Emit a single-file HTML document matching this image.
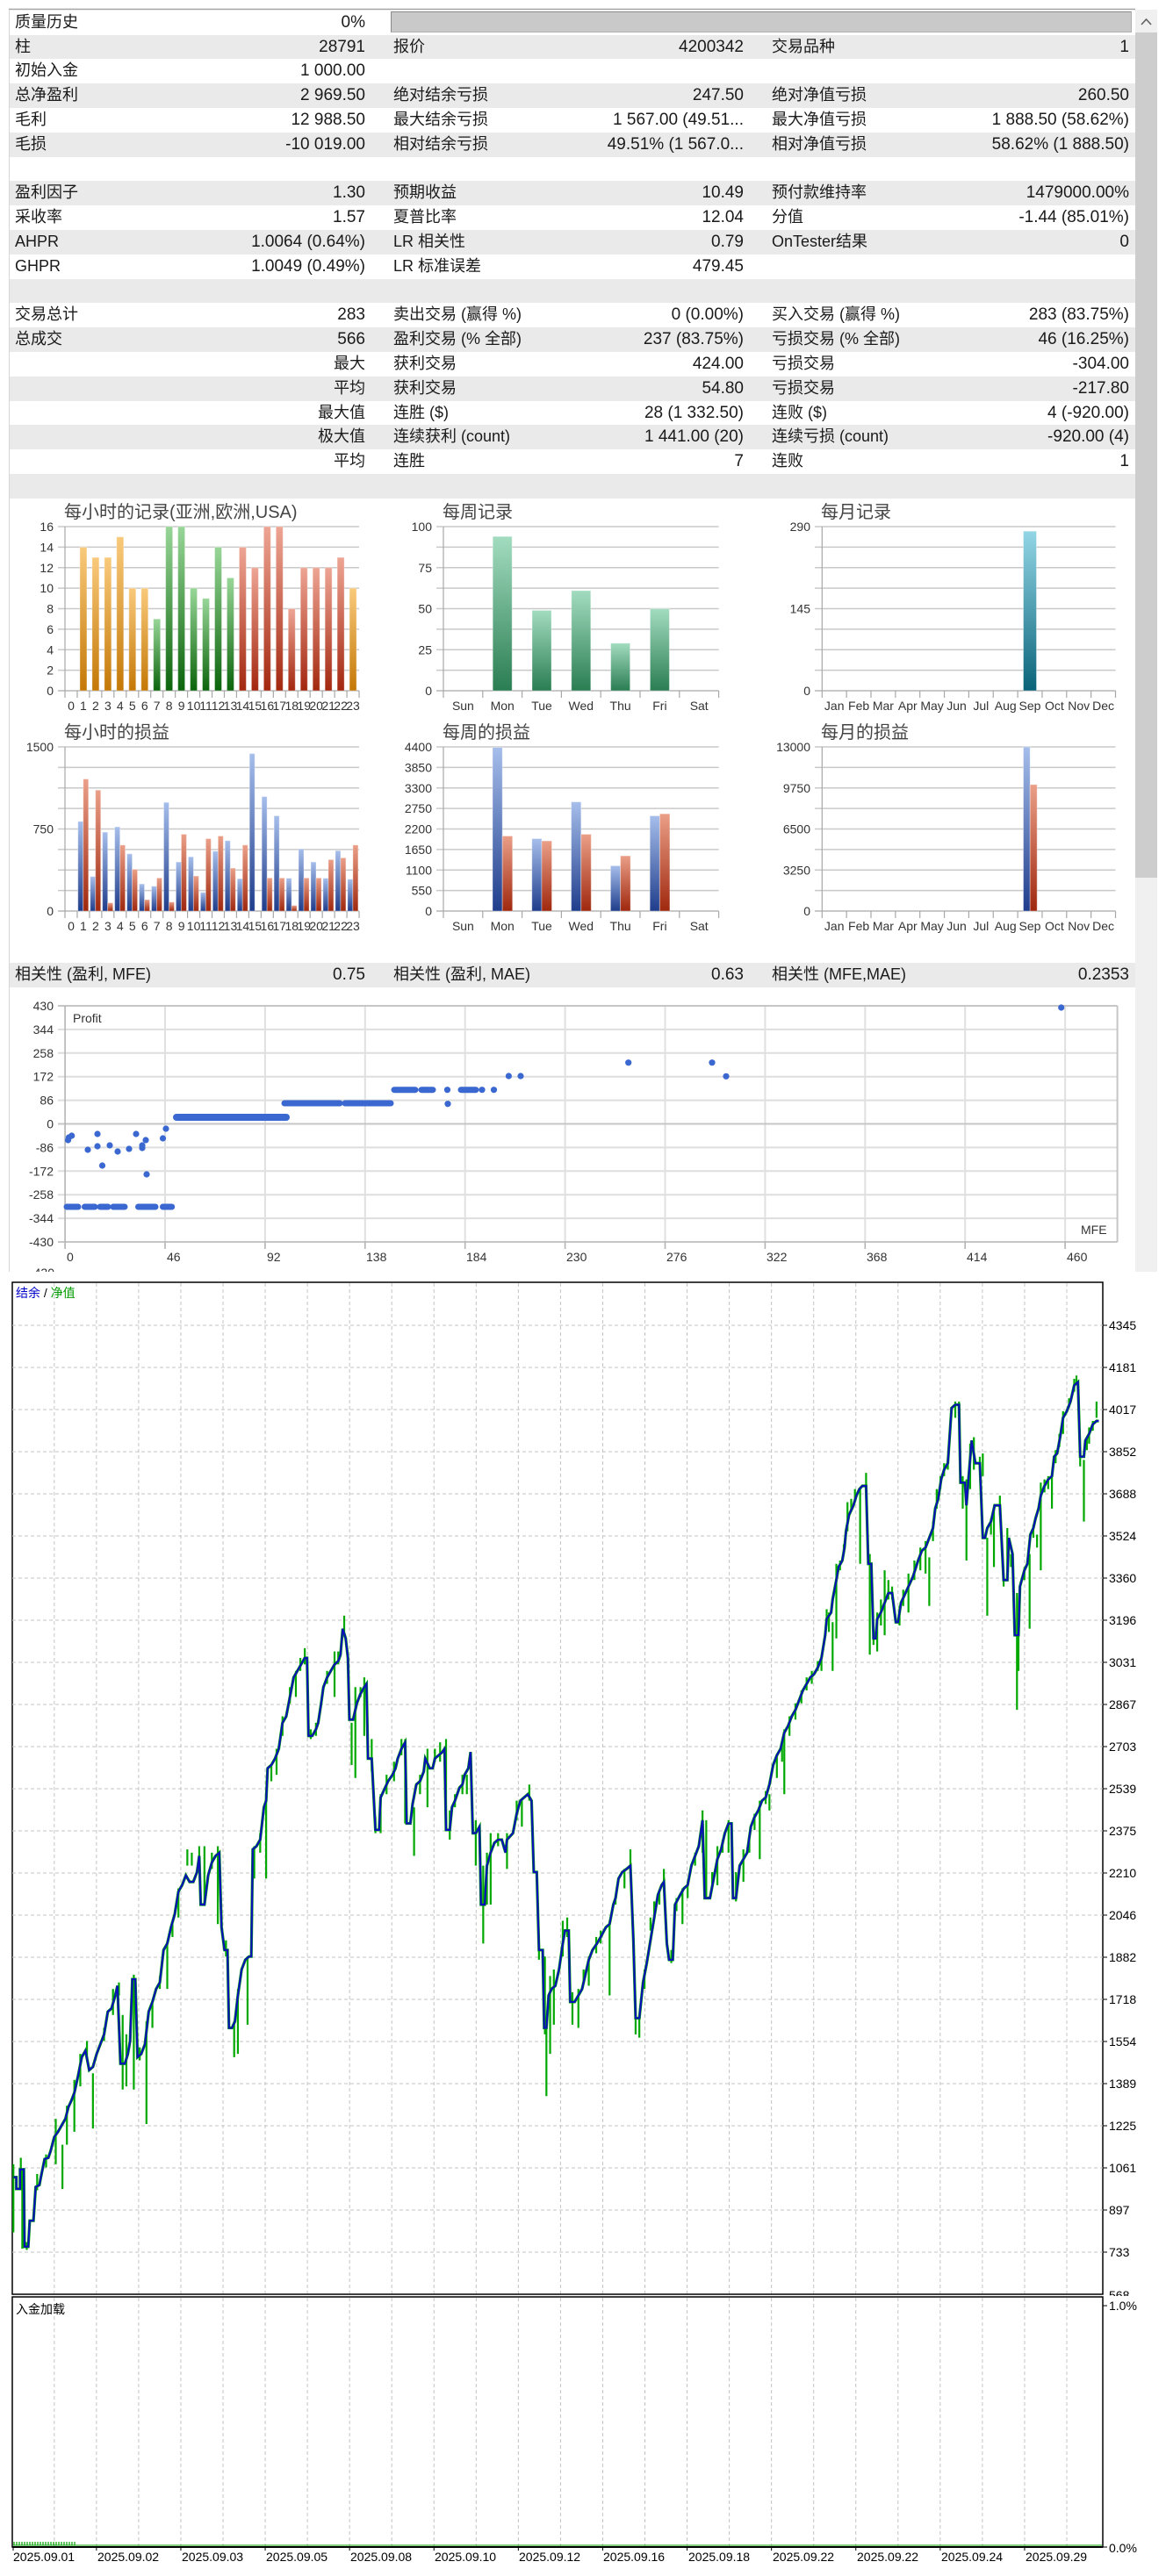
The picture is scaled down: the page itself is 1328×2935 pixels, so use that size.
<!DOCTYPE html>
<html><head><meta charset="utf-8">
<style>
html,body{margin:0;padding:0;background:#fff;}
#pg{position:relative;width:1328px;height:2935px;overflow:hidden;background:#fff;font-family:"Liberation Sans","Noto Sans CJK SC",sans-serif;color:#1a1a1a;}
.r{position:absolute;left:10px;width:1283px;height:27.8px;line-height:27.8px;font-size:18px;white-space:nowrap;}
.g{background:#eaeaea;}
.r span{position:absolute;top:0;}
.l1{left:7px}.l2{left:438px}.l3{left:869px}
.v1{right:877px;font-size:19px}.v2{right:446px;font-size:19px}.v3{right:7px;font-size:19px}
.v1c{right:877px}
svg{position:absolute;left:0;top:0;}
</style></head><body><div id="pg">

<div class="r" style="top:11.8px"><span class="l1">质量历史</span><span class="v1">0%</span></div>
<div style="position:absolute;left:445px;top:13px;width:842px;height:22px;background:#c9c9c9;border:1px solid #8a8a8a;border-right-color:#b0b0b0;border-bottom-color:#b0b0b0"></div>
<div class="r g" style="top:39.6px"><span class="l1">柱</span><span class="v1">28791</span><span class="l2">报价</span><span class="v2">4200342</span><span class="l3">交易品种</span><span class="v3">1</span></div>
<div class="r" style="top:67.4px"><span class="l1">初始入金</span><span class="v1">1 000.00</span></div>
<div class="r g" style="top:95.2px"><span class="l1">总净盈利</span><span class="v1">2 969.50</span><span class="l2">绝对结余亏损</span><span class="v2">247.50</span><span class="l3">绝对净值亏损</span><span class="v3">260.50</span></div>
<div class="r" style="top:123px"><span class="l1">毛利</span><span class="v1">12 988.50</span><span class="l2">最大结余亏损</span><span class="v2">1 567.00 (49.51...</span><span class="l3">最大净值亏损</span><span class="v3">1 888.50 (58.62%)</span></div>
<div class="r g" style="top:150.8px"><span class="l1">毛损</span><span class="v1">-10 019.00</span><span class="l2">相对结余亏损</span><span class="v2">49.51% (1 567.0...</span><span class="l3">相对净值亏损</span><span class="v3">58.62% (1 888.50)</span></div>
<div class="r" style="top:178.6px"></div>
<div class="r g" style="top:206.4px"><span class="l1">盈利因子</span><span class="v1">1.30</span><span class="l2">预期收益</span><span class="v2">10.49</span><span class="l3">预付款维持率</span><span class="v3">1479000.00%</span></div>
<div class="r" style="top:234.2px"><span class="l1">采收率</span><span class="v1">1.57</span><span class="l2">夏普比率</span><span class="v2">12.04</span><span class="l3">分值</span><span class="v3">-1.44 (85.01%)</span></div>
<div class="r g" style="top:262px"><span class="l1">AHPR</span><span class="v1">1.0064 (0.64%)</span><span class="l2">LR 相关性</span><span class="v2">0.79</span><span class="l3">OnTester结果</span><span class="v3">0</span></div>
<div class="r" style="top:289.8px"><span class="l1">GHPR</span><span class="v1">1.0049 (0.49%)</span><span class="l2">LR 标准误差</span><span class="v2">479.45</span></div>
<div class="r g" style="top:317.6px"></div>
<div class="r" style="top:345.4px"><span class="l1">交易总计</span><span class="v1">283</span><span class="l2">卖出交易 (赢得 %)</span><span class="v2">0 (0.00%)</span><span class="l3">买入交易 (赢得 %)</span><span class="v3">283 (83.75%)</span></div>
<div class="r g" style="top:373.2px"><span class="l1">总成交</span><span class="v1">566</span><span class="l2">盈利交易 (% 全部)</span><span class="v2">237 (83.75%)</span><span class="l3">亏损交易 (% 全部)</span><span class="v3">46 (16.25%)</span></div>
<div class="r" style="top:401px"><span class="v1c">最大</span><span class="l2">获利交易</span><span class="v2">424.00</span><span class="l3">亏损交易</span><span class="v3">-304.00</span></div>
<div class="r g" style="top:428.8px"><span class="v1c">平均</span><span class="l2">获利交易</span><span class="v2">54.80</span><span class="l3">亏损交易</span><span class="v3">-217.80</span></div>
<div class="r" style="top:456.6px"><span class="v1c">最大值</span><span class="l2">连胜 ($)</span><span class="v2">28 (1 332.50)</span><span class="l3">连败 ($)</span><span class="v3">4 (-920.00)</span></div>
<div class="r g" style="top:484.4px"><span class="v1c">极大值</span><span class="l2">连续获利 (count)</span><span class="v2">1 441.00 (20)</span><span class="l3">连续亏损 (count)</span><span class="v3">-920.00 (4)</span></div>
<div class="r" style="top:512.2px"><span class="v1c">平均</span><span class="l2">连胜</span><span class="v2">7</span><span class="l3">连败</span><span class="v3">1</span></div>
<div class="r g" style="top:540px"></div>
<div class="r g" style="top:1097.4px"><span class="l1">相关性 (盈利, MFE)</span><span class="v1">0.75</span><span class="l2">相关性 (盈利, MAE)</span><span class="v2">0.63</span><span class="l3">相关性 (MFE,MAE)</span><span class="v3">0.2353</span></div>

<svg width="1328" height="2935" viewBox="0 0 1328 2935" xmlns="http://www.w3.org/2000/svg" font-family="Liberation Sans, Noto Sans CJK SC, sans-serif">
<defs>
<linearGradient id="gO" x1="0" y1="0" x2="0" y2="1"><stop offset="0" stop-color="#f9ca7c"/><stop offset="1" stop-color="#c47806"/></linearGradient>
<linearGradient id="gG" x1="0" y1="0" x2="0" y2="1"><stop offset="0" stop-color="#98d698"/><stop offset="1" stop-color="#0b640b"/></linearGradient>
<linearGradient id="gR" x1="0" y1="0" x2="0" y2="1"><stop offset="0" stop-color="#eea594"/><stop offset="1" stop-color="#a3270f"/></linearGradient>
<linearGradient id="gW" x1="0" y1="0" x2="0" y2="1"><stop offset="0" stop-color="#a3dcc0"/><stop offset="1" stop-color="#2a7d52"/></linearGradient>
<linearGradient id="gB" x1="0" y1="0" x2="0" y2="1"><stop offset="0" stop-color="#a6beeb"/><stop offset="1" stop-color="#1f3d8c"/></linearGradient>
<linearGradient id="gR2" x1="0" y1="0" x2="0" y2="1"><stop offset="0" stop-color="#eb9f88"/><stop offset="1" stop-color="#9f280e"/></linearGradient>
<linearGradient id="gT" x1="0" y1="0" x2="0" y2="1"><stop offset="0" stop-color="#93d6e6"/><stop offset="1" stop-color="#0a6379"/></linearGradient>
</defs>

<!-- panel frame -->
<line x1="10" y1="10.5" x2="1293" y2="10.5" stroke="#a4a4a4" stroke-width="1.5"/>
<line x1="10.5" y1="11" x2="10.5" y2="1449" stroke="#d6d6d6" stroke-width="1"/>
<!-- scrollbar -->
<rect x="1293" y="11" width="25" height="1438" fill="#f0f0f0"/>
<rect x="1293" y="37" width="25" height="963" fill="#cdcdcd"/>
<polyline points="1300,28 1305.5,22 1311,28" fill="none" stroke="#606060" stroke-width="1.6"/>

<!-- ============ bar charts grids ============ -->
<g stroke="#c9c9c9" stroke-width="1.5" fill="none">
<path d="M66 600H409M66 623.4H409M66 646.75H409M66 670.1H409M66 693.5H409M66 716.9H409M66 740.25H409M66 763.6H409"/>
<path d="M66 851H409M66 874.4H409M66 897.75H409M66 921.1H409M66 944.5H409M66 967.9H409M66 991.25H409M66 1014.6H409"/>
<path d="M497 600H818.6M497 623.4H818.6M497 646.75H818.6M497 670.1H818.6M497 693.5H818.6M497 716.9H818.6M497 740.25H818.6M497 763.6H818.6"/>
<path d="M497 851H818.6M497 874.4H818.6M497 897.75H818.6M497 921.1H818.6M497 944.5H818.6M497 967.9H818.6M497 991.25H818.6M497 1014.6H818.6"/>
<path d="M928 600H1270.5M928 623.4H1270.5M928 646.75H1270.5M928 670.1H1270.5M928 693.5H1270.5M928 716.9H1270.5M928 740.25H1270.5M928 763.6H1270.5"/>
<path d="M928 851H1270.5M928 874.4H1270.5M928 897.75H1270.5M928 921.1H1270.5M928 944.5H1270.5M928 967.9H1270.5M928 991.25H1270.5M928 1014.6H1270.5"/>
</g>
<g stroke="#a8a8a8" stroke-width="1.2" fill="none">
<path d="M66 787H409M74 600V795M66 1038H409M74 851V1046"/>
<path d="M497 787H818.6M505 600V795M497 1038H818.6M505 851V1046"/>
<path d="M928 787H1270.5M936.3 600V795M928 1038H1270.5M936.3 851V1046"/>
<path d="M87.96 787v8M101.92 787v8M115.88 787v8M129.84 787v8M143.8 787v8M157.76 787v8M171.72 787v8M185.68 787v8M199.64 787v8M213.6 787v8M227.56 787v8M241.52 787v8M255.48 787v8M269.44 787v8M283.4 787v8M297.36 787v8M311.32 787v8M325.28 787v8M339.24 787v8M353.2 787v8M367.16 787v8M381.12 787v8M395.08 787v8M409.04 787v8"/>
<path d="M87.96 1038v8M101.92 1038v8M115.88 1038v8M129.84 1038v8M143.8 1038v8M157.76 1038v8M171.72 1038v8M185.68 1038v8M199.64 1038v8M213.6 1038v8M227.56 1038v8M241.52 1038v8M255.48 1038v8M269.44 1038v8M283.4 1038v8M297.36 1038v8M311.32 1038v8M325.28 1038v8M339.24 1038v8M353.2 1038v8M367.16 1038v8M381.12 1038v8M395.08 1038v8M409.04 1038v8"/>
<path d="M549.8 787v8M594.6 787v8M639.4 787v8M684.2 787v8M729 787v8M773.8 787v8M818.6 787v8M549.8 1038v8M594.6 1038v8M639.4 1038v8M684.2 1038v8M729 1038v8M773.8 1038v8M818.6 1038v8"/>
<path d="M964.15 787v8M992 787v8M1019.85 787v8M1047.7 787v8M1075.55 787v8M1103.4 787v8M1131.25 787v8M1159.1 787v8M1186.95 787v8M1214.8 787v8M1242.65 787v8M1270.5 787v8"/>
<path d="M964.15 1038v8M992 1038v8M1019.85 1038v8M1047.7 1038v8M1075.55 1038v8M1103.4 1038v8M1131.25 1038v8M1159.1 1038v8M1186.95 1038v8M1214.8 1038v8M1242.65 1038v8M1270.5 1038v8"/>
</g>

<!-- titles -->
<g font-size="20" fill="#444">
<text x="73" y="590">每小时的记录(亚洲,欧洲,USA)</text>
<text x="504" y="590">每周记录</text>
<text x="935" y="590">每月记录</text>
<text x="73" y="841">每小时的损益</text>
<text x="504" y="841">每周的损益</text>
<text x="935" y="841">每月的损益</text>
</g>

<!-- y labels -->
<g font-size="14" fill="#333" text-anchor="end">
<text x="61" y="605">16</text><text x="61" y="628.4">14</text><text x="61" y="651.75">12</text><text x="61" y="675.1">10</text><text x="61" y="698.5">8</text><text x="61" y="721.9">6</text><text x="61" y="745.25">4</text><text x="61" y="768.6">2</text><text x="61" y="792">0</text>
<text x="61" y="856">1500</text><text x="61" y="949.5">750</text><text x="61" y="1043">0</text>
<text x="492" y="605">100</text><text x="492" y="651.75">75</text><text x="492" y="698.5">50</text><text x="492" y="745.25">25</text><text x="492" y="792">0</text>
<text x="492" y="856">4400</text><text x="492" y="879.4">3850</text><text x="492" y="902.75">3300</text><text x="492" y="926.1">2750</text><text x="492" y="949.5">2200</text><text x="492" y="972.9">1650</text><text x="492" y="996.25">1100</text><text x="492" y="1019.6">550</text><text x="492" y="1043">0</text>
<text x="923" y="605">290</text><text x="923" y="698.5">145</text><text x="923" y="792">0</text>
<text x="923" y="856">13000</text><text x="923" y="902.75">9750</text><text x="923" y="949.5">6500</text><text x="923" y="996.25">3250</text><text x="923" y="1043">0</text>
</g>

<!-- x labels -->
<g font-size="14" fill="#333" text-anchor="middle">
<text x="80.98" y="809">0</text><text x="94.94" y="809">1</text><text x="108.9" y="809">2</text><text x="122.86" y="809">3</text><text x="136.82" y="809">4</text><text x="150.78" y="809">5</text><text x="164.74" y="809">6</text><text x="178.7" y="809">7</text><text x="192.66" y="809">8</text><text x="206.62" y="809">9</text><text x="220.58" y="809">10</text><text x="234.54" y="809">11</text><text x="248.5" y="809">12</text><text x="262.46" y="809">13</text><text x="276.42" y="809">14</text><text x="290.38" y="809">15</text><text x="304.34" y="809">16</text><text x="318.3" y="809">17</text><text x="332.26" y="809">18</text><text x="346.22" y="809">19</text><text x="360.18" y="809">20</text><text x="374.14" y="809">21</text><text x="388.1" y="809">22</text><text x="402.06" y="809">23</text>
<text x="80.98" y="1060">0</text><text x="94.94" y="1060">1</text><text x="108.9" y="1060">2</text><text x="122.86" y="1060">3</text><text x="136.82" y="1060">4</text><text x="150.78" y="1060">5</text><text x="164.74" y="1060">6</text><text x="178.7" y="1060">7</text><text x="192.66" y="1060">8</text><text x="206.62" y="1060">9</text><text x="220.58" y="1060">10</text><text x="234.54" y="1060">11</text><text x="248.5" y="1060">12</text><text x="262.46" y="1060">13</text><text x="276.42" y="1060">14</text><text x="290.38" y="1060">15</text><text x="304.34" y="1060">16</text><text x="318.3" y="1060">17</text><text x="332.26" y="1060">18</text><text x="346.22" y="1060">19</text><text x="360.18" y="1060">20</text><text x="374.14" y="1060">21</text><text x="388.1" y="1060">22</text><text x="402.06" y="1060">23</text>
<text x="527.4" y="809">Sun</text><text x="572.2" y="809">Mon</text><text x="617" y="809">Tue</text><text x="661.8" y="809">Wed</text><text x="706.6" y="809">Thu</text><text x="751.4" y="809">Fri</text><text x="796.2" y="809">Sat</text>
<text x="527.4" y="1060">Sun</text><text x="572.2" y="1060">Mon</text><text x="617" y="1060">Tue</text><text x="661.8" y="1060">Wed</text><text x="706.6" y="1060">Thu</text><text x="751.4" y="1060">Fri</text><text x="796.2" y="1060">Sat</text>
<text x="950.2" y="809">Jan</text><text x="978.1" y="809">Feb</text><text x="1005.9" y="809">Mar</text><text x="1033.8" y="809">Apr</text><text x="1061.6" y="809">May</text><text x="1089.5" y="809">Jun</text><text x="1117.3" y="809">Jul</text><text x="1145.2" y="809">Aug</text><text x="1173" y="809">Sep</text><text x="1200.9" y="809">Oct</text><text x="1228.7" y="809">Nov</text><text x="1256.6" y="809">Dec</text>
<text x="950.2" y="1060">Jan</text><text x="978.1" y="1060">Feb</text><text x="1005.9" y="1060">Mar</text><text x="1033.8" y="1060">Apr</text><text x="1061.6" y="1060">May</text><text x="1089.5" y="1060">Jun</text><text x="1117.3" y="1060">Jul</text><text x="1145.2" y="1060">Aug</text><text x="1173" y="1060">Sep</text><text x="1200.9" y="1060">Oct</text><text x="1228.7" y="1060">Nov</text><text x="1256.6" y="1060">Dec</text>
</g>

<!-- hourly records bars -->
<g stroke="rgba(255,255,255,0.35)" stroke-width="1">
<rect x="90.94" y="623.4" width="8" height="163.6" fill="url(#gO)"/>
<rect x="104.9" y="635.1" width="8" height="151.9" fill="url(#gO)"/>
<rect x="118.86" y="635.1" width="8" height="151.9" fill="url(#gO)"/>
<rect x="132.82" y="611.7" width="8" height="175.3" fill="url(#gO)"/>
<rect x="146.78" y="670.1" width="8" height="116.9" fill="url(#gO)"/>
<rect x="160.74" y="670.1" width="8" height="116.9" fill="url(#gO)"/>
<rect x="174.7" y="705.2" width="8" height="81.8" fill="url(#gG)"/>
<rect x="188.66" y="600" width="8" height="187" fill="url(#gG)"/>
<rect x="202.62" y="600" width="8" height="187" fill="url(#gG)"/>
<rect x="216.58" y="670.1" width="8" height="116.9" fill="url(#gG)"/>
<rect x="230.54" y="681.8" width="8" height="105.2" fill="url(#gG)"/>
<rect x="244.5" y="623.4" width="8" height="163.6" fill="url(#gG)"/>
<rect x="258.46" y="658.4" width="8" height="128.6" fill="url(#gG)"/>
<rect x="272.42" y="623.4" width="8" height="163.6" fill="url(#gR)"/>
<rect x="286.38" y="646.75" width="8" height="140.25" fill="url(#gR)"/>
<rect x="300.34" y="600" width="8" height="187" fill="url(#gR)"/>
<rect x="314.3" y="600" width="8" height="187" fill="url(#gR)"/>
<rect x="328.26" y="693.5" width="8" height="93.5" fill="url(#gR)"/>
<rect x="342.22" y="646.75" width="8" height="140.25" fill="url(#gR)"/>
<rect x="356.18" y="646.75" width="8" height="140.25" fill="url(#gR)"/>
<rect x="370.14" y="646.75" width="8" height="140.25" fill="url(#gR)"/>
<rect x="384.1" y="635.1" width="8" height="151.9" fill="url(#gR)"/>
<rect x="398.06" y="670.1" width="8" height="116.9" fill="url(#gO)"/>

<!-- hourly P/L -->
<rect x="88.76" y="935.9" width="6" height="102.1" fill="url(#gB)"/><rect x="94.76" y="887.6" width="6" height="150.4" fill="url(#gR2)"/>
<rect x="102.72" y="998.7" width="6" height="39.3" fill="url(#gB)"/><rect x="108.72" y="900.2" width="6" height="137.8" fill="url(#gR2)"/>
<rect x="116.68" y="948.1" width="6" height="89.9" fill="url(#gB)"/><rect x="122.68" y="1028.6" width="6" height="9.4" fill="url(#gR2)"/>
<rect x="130.64" y="942.1" width="6" height="95.9" fill="url(#gB)"/><rect x="136.64" y="962.8" width="6" height="75.2" fill="url(#gR2)"/>
<rect x="144.6" y="972.8" width="6" height="65.2" fill="url(#gB)"/><rect x="150.6" y="990.4" width="6" height="47.6" fill="url(#gR2)"/>
<rect x="158.56" y="1007.1" width="6" height="30.9" fill="url(#gB)"/><rect x="164.56" y="1025" width="6" height="13" fill="url(#gR2)"/>
<rect x="172.52" y="1009.7" width="6" height="28.3" fill="url(#gB)"/><rect x="178.52" y="1000.3" width="6" height="37.7" fill="url(#gR2)"/>
<rect x="186.48" y="914.2" width="6" height="123.8" fill="url(#gB)"/><rect x="192.48" y="1027.7" width="6" height="10.3" fill="url(#gR2)"/>
<rect x="200.44" y="982.1" width="6" height="55.9" fill="url(#gB)"/><rect x="206.44" y="950.5" width="6" height="87.5" fill="url(#gR2)"/>
<rect x="214.4" y="976.2" width="6" height="61.8" fill="url(#gB)"/><rect x="220.4" y="998.1" width="6" height="39.9" fill="url(#gR2)"/>
<rect x="228.36" y="1016.7" width="6" height="21.3" fill="url(#gB)"/><rect x="234.36" y="955.5" width="6" height="82.5" fill="url(#gR2)"/>
<rect x="242.32" y="969.8" width="6" height="68.2" fill="url(#gB)"/><rect x="248.32" y="952.5" width="6" height="85.5" fill="url(#gR2)"/>
<rect x="256.28" y="957.8" width="6" height="80.2" fill="url(#gB)"/><rect x="262.28" y="989.1" width="6" height="48.9" fill="url(#gR2)"/>
<rect x="270.24" y="1001.1" width="6" height="36.9" fill="url(#gB)"/><rect x="276.24" y="962.8" width="6" height="75.2" fill="url(#gR2)"/>
<rect x="284.2" y="858.6" width="6" height="179.4" fill="url(#gB)"/>
<rect x="298.16" y="907.6" width="6" height="130.4" fill="url(#gB)"/><rect x="304.16" y="1000.3" width="6" height="37.7" fill="url(#gR2)"/>
<rect x="312.12" y="929.5" width="6" height="108.5" fill="url(#gB)"/><rect x="318.12" y="1000.3" width="6" height="37.7" fill="url(#gR2)"/>
<rect x="326.08" y="1000.6" width="6" height="37.4" fill="url(#gB)"/><rect x="332.08" y="1031.6" width="6" height="6.4" fill="url(#gR2)"/>
<rect x="340.04" y="967.2" width="6" height="70.8" fill="url(#gB)"/><rect x="346.04" y="1000.3" width="6" height="37.7" fill="url(#gR2)"/>
<rect x="354" y="982.1" width="6" height="55.9" fill="url(#gB)"/><rect x="360" y="1000.3" width="6" height="37.7" fill="url(#gR2)"/>
<rect x="367.96" y="1000.6" width="6" height="37.4" fill="url(#gB)"/><rect x="373.96" y="979.4" width="6" height="58.6" fill="url(#gR2)"/>
<rect x="381.92" y="969.2" width="6" height="68.8" fill="url(#gB)"/><rect x="387.92" y="977.4" width="6" height="60.6" fill="url(#gR2)"/>
<rect x="395.88" y="1001.7" width="6" height="36.3" fill="url(#gB)"/><rect x="401.88" y="962.8" width="6" height="75.2" fill="url(#gR2)"/>

<!-- weekly -->
<rect x="561.2" y="611.2" width="22" height="175.8" fill="url(#gW)"/>
<rect x="606" y="695.4" width="22" height="91.6" fill="url(#gW)"/>
<rect x="650.8" y="672.9" width="22" height="114.1" fill="url(#gW)"/>
<rect x="695.6" y="732.8" width="22" height="54.2" fill="url(#gW)"/>
<rect x="740.4" y="693.5" width="22" height="93.5" fill="url(#gW)"/>
<rect x="561" y="851.6" width="11.2" height="186.4" fill="url(#gB)"/><rect x="572.2" y="952.5" width="11.5" height="85.5" fill="url(#gR2)"/>
<rect x="605.8" y="955.5" width="11.2" height="82.5" fill="url(#gB)"/><rect x="617" y="958.1" width="11.5" height="79.9" fill="url(#gR2)"/>
<rect x="650.6" y="913.6" width="11.2" height="124.4" fill="url(#gB)"/><rect x="661.8" y="950.5" width="11.5" height="87.5" fill="url(#gR2)"/>
<rect x="695.4" y="986.4" width="11.2" height="51.6" fill="url(#gB)"/><rect x="706.6" y="975.1" width="11.5" height="62.9" fill="url(#gR2)"/>
<rect x="740.2" y="929.5" width="11.2" height="108.5" fill="url(#gB)"/><rect x="751.4" y="927.2" width="11.5" height="110.8" fill="url(#gR2)"/>

<!-- monthly -->
<rect x="1165.5" y="605.2" width="15" height="181.8" fill="url(#gT)"/>
<rect x="1165.5" y="851" width="7.7" height="187" fill="url(#gB)"/>
<rect x="1173.2" y="893.9" width="8" height="144.1" fill="url(#gR2)"/>
</g>

<!-- ============ scatter ============ -->
<g fill="none">
<path stroke="#dedede" stroke-width="2" d="M66 1172.9H1272.6M66 1199.8H1272.6M66 1226.7H1272.6M66 1253.6H1272.6M66 1307.4H1272.6M66 1334.3H1272.6M66 1361.2H1272.6M66 1388.1H1272.6"/>
<path stroke="#e0e0e0" stroke-width="2" d="M188 1146V1415M301.9 1146V1415M415.8 1146V1415M529.7 1146V1415M643.6 1146V1415M757.5 1146V1415M871.4 1146V1415M985.3 1146V1415M1099.2 1146V1415M1213.1 1146V1415"/>
<path stroke="#c6c6c6" stroke-width="2" d="M66 1146H1272.6M66 1280.5H1272.6M1272.6 1146V1415"/>
<path stroke="#b4b4b4" stroke-width="1.6" d="M66 1415H1272.6M74.1 1146V1423M188 1415v8M301.9 1415v8M415.8 1415v8M529.7 1415v8M643.6 1415v8M757.5 1415v8M871.4 1415v8M985.3 1415v8M1099.2 1415v8M1213.1 1415v8"/>
</g>
<g font-size="14" fill="#333" text-anchor="end">
<text x="61" y="1151">430</text><text x="61" y="1177.9">344</text><text x="61" y="1204.8">258</text><text x="61" y="1231.7">172</text><text x="61" y="1258.6">86</text><text x="61" y="1285.5">0</text><text x="61" y="1312.4">-86</text><text x="61" y="1339.3">-172</text><text x="61" y="1366.2">-258</text><text x="61" y="1393.1">-344</text><text x="61" y="1420">-430</text>
<text x="62" y="1455">-430</text>
</g>
<g font-size="14" fill="#333">
<text x="76" y="1437">0</text><text x="190" y="1437">46</text><text x="304" y="1437">92</text><text x="417" y="1437">138</text><text x="531" y="1437">184</text><text x="645" y="1437">230</text><text x="759" y="1437">276</text><text x="873" y="1437">322</text><text x="987" y="1437">368</text><text x="1101" y="1437">414</text><text x="1215" y="1437">460</text>
<text x="83" y="1165">Profit</text><text x="1231" y="1406">MFE</text>
</g>
<g stroke="#3a68d0" stroke-width="7" stroke-linecap="round">
<path d="M76 1375H89M96.5 1375H108M114 1375H123M129 1375H142M157.5 1375H177M185.5 1375H195.7"/>
<path d="M201 1273H326" stroke-width="8"/>
<path d="M324 1257H387M393 1257H445"/>
<path d="M449 1241.7H473M480 1241.7H493M525 1241.7H542"/>
</g>
<g fill="#3a68d0">
<circle cx="77.5" cy="1299" r="3.6"/><circle cx="78.4" cy="1296" r="3.6"/><circle cx="81.7" cy="1294" r="3.6"/>
<circle cx="100" cy="1310" r="3.6"/><circle cx="111" cy="1292" r="3.6"/><circle cx="111" cy="1306" r="3.6"/><circle cx="116.5" cy="1328" r="3.6"/>
<circle cx="125" cy="1305" r="3.6"/><circle cx="134" cy="1312" r="3.6"/><circle cx="147" cy="1309" r="3.6"/><circle cx="155" cy="1292" r="3.6"/>
<circle cx="162" cy="1305" r="3.6"/><circle cx="162" cy="1308" r="3.6"/><circle cx="166" cy="1299" r="3.6"/><circle cx="167" cy="1338" r="3.6"/>
<circle cx="185.5" cy="1297" r="3.6"/><circle cx="189" cy="1286" r="3.6"/>
<circle cx="509.5" cy="1241.7" r="3.6"/><circle cx="549" cy="1241.7" r="3.6"/><circle cx="562.5" cy="1241.7" r="3.6"/><circle cx="510" cy="1257.7" r="3.6"/>
<circle cx="579.4" cy="1226" r="3.6"/><circle cx="593" cy="1226" r="3.6"/>
<circle cx="715.7" cy="1210.7" r="3.6"/><circle cx="811" cy="1210.7" r="3.6"/><circle cx="827" cy="1226.3" r="3.6"/><circle cx="1208.7" cy="1148" r="3.6"/>
</g>
<rect x="0" y="1449" width="1328" height="12" fill="#fff"/>

<!-- ============ main chart ============ -->
<rect x="14" y="1461" width="1242" height="1153" fill="#fff" stroke="#000" stroke-width="1.5"/>
<g stroke="#c4c4c4" stroke-width="1" stroke-dasharray="4 3" fill="none">
<path d="M14 1510H1256M14 1558H1256M14 1606H1256M14 1654H1256M14 1702H1256M14 1750H1256M14 1798H1256M14 1846H1256M14 1894H1256M14 1942H1256M14 1990H1256M14 2038H1256M14 2086H1256M14 2134H1256M14 2182H1256M14 2230H1256M14 2278H1256M14 2326H1256M14 2374H1256M14 2422H1256M14 2470H1256M14 2518H1256M14 2566H1256"/>
<path d="M61.8 1462V2613M109.85 1462V2613M157.9 1462V2613M205.95 1462V2613M254 1462V2613M302.05 1462V2613M350.1 1462V2613M398.15 1462V2613M446.2 1462V2613M494.25 1462V2613M542.3 1462V2613M590.35 1462V2613M638.4 1462V2613M686.45 1462V2613M734.5 1462V2613M782.55 1462V2613M830.6 1462V2613M878.65 1462V2613M926.7 1462V2613M974.75 1462V2613M1022.8 1462V2613M1070.85 1462V2613M1118.9 1462V2613M1166.95 1462V2613M1215 1462V2613"/>
</g>
<g stroke="#000" stroke-width="1">
<path d="M1256 1510h5M1256 1558h5M1256 1606h5M1256 1654h5M1256 1702h5M1256 1750h5M1256 1798h5M1256 1846h5M1256 1894h5M1256 1942h5M1256 1990h5M1256 2038h5M1256 2086h5M1256 2134h5M1256 2182h5M1256 2230h5M1256 2278h5M1256 2326h5M1256 2374h5M1256 2422h5M1256 2470h5M1256 2518h5M1256 2566h5"/>
</g>
<g font-size="14" fill="#000">
<text x="1263" y="1515">4345</text><text x="1263" y="1563">4181</text><text x="1263" y="1611">4017</text><text x="1263" y="1659">3852</text><text x="1263" y="1707">3688</text><text x="1263" y="1755">3524</text><text x="1263" y="1803">3360</text><text x="1263" y="1851">3196</text><text x="1263" y="1899">3031</text><text x="1263" y="1947">2867</text><text x="1263" y="1995">2703</text><text x="1263" y="2043">2539</text><text x="1263" y="2091">2375</text><text x="1263" y="2139">2210</text><text x="1263" y="2187">2046</text><text x="1263" y="2235">1882</text><text x="1263" y="2283">1718</text><text x="1263" y="2331">1554</text><text x="1263" y="2379">1389</text><text x="1263" y="2427">1225</text><text x="1263" y="2475">1061</text><text x="1263" y="2523">897</text><text x="1263" y="2571">733</text><text x="1263" y="2620">568</text>
</g>
<text x="18" y="1478" font-size="14"><tspan fill="#0000c8">结余</tspan><tspan fill="#000"> / </tspan><tspan fill="#009a00">净值</tspan></text>

<g transform="translate(0 1460) scale(0.8467 0.7396)" fill="none" stroke-linejoin="miter">
<path vector-effect="non-scaling-stroke" stroke="#00a800" stroke-width="2.2" d="M18 1360V1465M28 1350V1400M30 1370V1490M36 1480V1492M50 1375V1400M62 1345V1365M75 1290V1360M84 1330V1398M90 1270V1330M100 1230V1310M108 1190V1240M117 1170V1200M125 1220V1305M140 1150V1170M152 1090V1130M160 1080V1100M165 1130V1245M170 1160V1240M180 1068V1245M188 1180V1200M197 1140V1298M205 1110V1150M215 1070V1090M225 1020V1090M232 990V1010M240 935V980M252 875V900M258 880V900M268 870V900M275 870V960M285 880V905M293 870V990M304 1015V1040M315 1140V1195M320 1090V1190M333 1040V1145M342 870V920M350 850V880M358 800V920M365 745V770M372 720V760M380 670V700M390 625V650M398 600V640M404 580V600M410 565V590M418 690V705M425 680V700M440 600V620M450 570V640M455 570V590M463 515V540M473 680V745M478 625V765M485 625V640M490 610V700M500 705V755M505 825V850M512 790V850M520 760V790M530 740V770M540 705V730M545 705V835M557 810V885M565 760V790M575 720V810M585 720V740M592 710V740M600 705V845M605 815V860M612 790V810M622 760V790M628 760V790M640 830V900M650 900V1020M655 880V960M660 850V960M670 850V870M682 850V905M695 800V830M702 800V840M712 775V800M725 1025V1045M733 1040V1160M735 1150V1255M740 1070V1190M745 1060V1145M757 985V1040M763 980V1010M770 1095V1145M778 1090V1150M785 1060V1080M792 1040V1085M802 1010V1035M808 1000V1020M820 985V1100M828 945V960M840 905V935M848 875V900M855 1130V1160M860 1135V1165M867 1060V1090M875 980V1000M880 955V980M887 940V960M893 905V930M903 1030V1050M910 950V970M918 935V990M925 925V950M935 880V900M945 815V880M950 830V950M958 910V930M965 870V930M972 860V880M980 830V880M990 910V955M1000 875V925M1008 860V880M1015 820V845M1022 800V890M1030 785V805M1035 790V815M1045 730V765M1052 710V740M1055 690V790M1062 670V700M1070 650V675M1078 630V650M1085 610V630M1092 600V620M1100 585V600M1105 580V600M1112 505V530M1115 510V540M1120 525V600M1125 435V550M1130 430V445M1135 405V420M1140 340V385M1145 335V355M1150 320V340M1157 320V435M1165 295V330M1170 420V575M1175 540V560M1180 510V570M1185 490V530M1190 445V545M1195 460V490M1200 470V490M1210 500V530M1215 475V500M1222 450V510M1230 430V460M1238 410V445M1245 400V450M1250 425V500M1255 370V400M1260 320V350M1265 300V320M1270 280V300M1275 270V290M1285 185V210M1290 185V200M1295 300V350M1300 305V430M1305 250V320M1310 240V290M1318 270V290M1322 265V300M1328 395V515M1333 365V390M1337 345V440M1345 330V360M1350 450V470M1355 380V450M1360 420V440M1368 480V660M1370 545V600M1378 440V460M1385 420V535M1390 375V395M1395 390V410M1400 310V445M1405 305V325M1410 300V320M1415 300V350M1420 260V280M1425 235V255M1430 200V235M1438 180V195M1445 150V170M1448 145V160M1453 260V285M1458 275V370M1462 240V260M1465 225V250M1470 215V230M1475 185V210"/>
<polyline vector-effect="non-scaling-stroke" stroke="#00a800" stroke-width="3.2" points="18,1380 22,1380 22,1398 27,1398 27,1368 32,1368 33,1487 38,1487 40,1447 45,1447 48,1395 53,1392 55,1380 60,1352 65,1350 68,1340 73,1318 78,1310 83,1300 88,1290 92,1272 96,1262 100,1250 105,1224 110,1195 115,1185 120,1215 125,1210 130,1190 135,1175 140,1160 145,1125 150,1120 155,1100 158,1085 162,1205 168,1205 172,1190 175,1170 178,1075 182,1075 185,1195 190,1190 195,1175 200,1125 205,1110 210,1090 215,1080 220,1030 225,1020 230,995 235,975 240,940 245,930 250,915 255,925 260,925 265,910 268,885 270,960 275,960 280,915 285,895 290,885 295,880 298,995 302,1030 306,1030 308,1150 312,1150 316,1140 320,1100 325,1060 330,1045 335,1040 338,1040 340,875 345,870 350,860 355,810 358,800 360,750 365,745 370,735 375,720 380,680 385,670 390,640 395,610 400,600 405,590 410,580 413,580 415,700 420,700 425,690 428,680 432,650 435,625 440,610 445,600 450,590 455,585 458,575 461,535 465,550 468,580 470,675 475,675 480,650 485,635 490,625 493,620 495,735 500,735 505,845 510,845 512,795 518,780 522,770 528,760 532,750 535,735 540,720 545,710 547,835 552,835 555,805 560,775 565,770 570,755 572,735 578,750 582,750 585,735 590,730 595,725 598,720 600,845 605,845 608,810 612,800 618,780 622,775 625,760 630,750 633,725 636,850 640,850 645,840 647,960 652,960 655,900 660,880 665,865 670,860 675,860 680,880 682,860 690,850 695,820 700,800 705,795 710,790 715,800 718,910 722,910 725,1030 730,1030 732,1150 735,1150 738,1100 742,1090 747,1085 752,1060 757,1020 760,1000 765,1000 767,1110 773,1110 778,1100 783,1090 787,1070 792,1045 797,1030 803,1020 808,1010 815,995 820,990 825,960 828,950 832,920 837,910 843,905 848,900 852,1015 855,1135 860,1135 865,1080 870,1050 875,1015 880,980 885,945 890,930 893,925 897,1020 900,1045 905,1045 908,960 915,945 920,935 925,930 930,900 935,885 940,870 945,830 948,950 955,950 960,920 965,890 970,875 975,850 980,835 984,835 986,950 990,950 995,900 1000,890 1005,880 1010,840 1015,825 1020,815 1025,800 1030,795 1035,775 1040,745 1045,730 1050,720 1055,695 1060,685 1065,670 1070,660 1075,645 1080,630 1085,620 1090,610 1095,605 1100,595 1105,580 1110,545 1112,520 1118,510 1120,490 1125,460 1128,440 1133,430 1136,410 1138,385 1142,360 1148,345 1152,330 1156,320 1160,315 1165,315 1168,435 1172,435 1175,550 1178,550 1180,520 1185,510 1190,495 1195,480 1200,480 1205,525 1208,525 1212,495 1218,480 1222,470 1228,455 1235,430 1240,415 1245,410 1250,395 1255,380 1258,350 1262,335 1266,305 1270,290 1275,280 1280,195 1285,190 1290,190 1292,310 1298,310 1300,345 1302,315 1307,245 1312,280 1318,280 1322,395 1325,395 1328,380 1333,370 1338,345 1345,345 1350,460 1355,460 1357,395 1362,420 1365,545 1370,545 1372,470 1378,445 1382,435 1386,390 1390,380 1393,365 1397,350 1400,330 1405,315 1410,305 1415,300 1418,270 1422,265 1426,240 1430,210 1435,200 1440,185 1445,160 1450,155 1453,270 1458,270 1460,245 1465,235 1470,220 1475,215 1478,215"/>
<polyline vector-effect="non-scaling-stroke" stroke="#0a10b8" stroke-width="2.2" points="18,1380 22,1380 22,1398 27,1398 27,1368 32,1368 33,1487 38,1487 40,1447 45,1447 48,1395 53,1392 55,1380 60,1352 65,1350 68,1340 73,1318 78,1310 83,1300 88,1290 92,1272 96,1262 100,1250 105,1224 110,1195 115,1185 120,1215 125,1210 130,1190 135,1175 140,1160 145,1125 150,1120 155,1100 158,1085 162,1205 168,1205 172,1190 175,1170 178,1075 182,1075 185,1195 190,1190 195,1175 200,1125 205,1110 210,1090 215,1080 220,1030 225,1020 230,995 235,975 240,940 245,930 250,915 255,925 260,925 265,910 268,885 270,960 275,960 280,915 285,895 290,885 295,880 298,995 302,1030 306,1030 308,1150 312,1150 316,1140 320,1100 325,1060 330,1045 335,1040 338,1040 340,875 345,870 350,860 355,810 358,800 360,750 365,745 370,735 375,720 380,680 385,670 390,640 395,610 400,600 405,590 410,580 413,580 415,700 420,700 425,690 428,680 432,650 435,625 440,610 445,600 450,590 455,585 458,575 461,535 465,550 468,580 470,675 475,675 480,650 485,635 490,625 493,620 495,735 500,735 505,845 510,845 512,795 518,780 522,770 528,760 532,750 535,735 540,720 545,710 547,835 552,835 555,805 560,775 565,770 570,755 572,735 578,750 582,750 585,735 590,730 595,725 598,720 600,845 605,845 608,810 612,800 618,780 622,775 625,760 630,750 633,725 636,850 640,850 645,840 647,960 652,960 655,900 660,880 665,865 670,860 675,860 680,880 682,860 690,850 695,820 700,800 705,795 710,790 715,800 718,910 722,910 725,1030 730,1030 732,1150 735,1150 738,1100 742,1090 747,1085 752,1060 757,1020 760,1000 765,1000 767,1110 773,1110 778,1100 783,1090 787,1070 792,1045 797,1030 803,1020 808,1010 815,995 820,990 825,960 828,950 832,920 837,910 843,905 848,900 852,1015 855,1135 860,1135 865,1080 870,1050 875,1015 880,980 885,945 890,930 893,925 897,1020 900,1045 905,1045 908,960 915,945 920,935 925,930 930,900 935,885 940,870 945,830 948,950 955,950 960,920 965,890 970,875 975,850 980,835 984,835 986,950 990,950 995,900 1000,890 1005,880 1010,840 1015,825 1020,815 1025,800 1030,795 1035,775 1040,745 1045,730 1050,720 1055,695 1060,685 1065,670 1070,660 1075,645 1080,630 1085,620 1090,610 1095,605 1100,595 1105,580 1110,545 1112,520 1118,510 1120,490 1125,460 1128,440 1133,430 1136,410 1138,385 1142,360 1148,345 1152,330 1156,320 1160,315 1165,315 1168,435 1172,435 1175,550 1178,550 1180,520 1185,510 1190,495 1195,480 1200,480 1205,525 1208,525 1212,495 1218,480 1222,470 1228,455 1235,430 1240,415 1245,410 1250,395 1255,380 1258,350 1262,335 1266,305 1270,290 1275,280 1280,195 1285,190 1290,190 1292,310 1298,310 1300,345 1302,315 1307,245 1312,280 1318,280 1322,395 1325,395 1328,380 1333,370 1338,345 1345,345 1350,460 1355,460 1357,395 1362,420 1365,545 1370,545 1372,470 1378,445 1382,435 1386,390 1390,380 1393,365 1397,350 1400,330 1405,315 1410,305 1415,300 1418,270 1422,265 1426,240 1430,210 1435,200 1440,185 1445,160 1450,155 1453,270 1458,270 1460,245 1465,235 1470,220 1475,215 1478,215"/>
</g>

<!-- sub panel -->
<rect x="1256.8" y="2616" width="44" height="30" fill="#fff"/>
<rect x="14" y="2617" width="1242" height="285" fill="#fff" stroke="#000" stroke-width="1.5"/>
<g stroke="#c4c4c4" stroke-width="1" stroke-dasharray="4 3" fill="none">
<path d="M61.8 2618V2901M109.85 2618V2901M157.9 2618V2901M205.95 2618V2901M254 2618V2901M302.05 2618V2901M350.1 2618V2901M398.15 2618V2901M446.2 2618V2901M494.25 2618V2901M542.3 2618V2901M590.35 2618V2901M638.4 2618V2901M686.45 2618V2901M734.5 2618V2901M782.55 2618V2901M830.6 2618V2901M878.65 2618V2901M926.7 2618V2901M974.75 2618V2901M1022.8 2618V2901M1070.85 2618V2901M1118.9 2618V2901M1166.95 2618V2901M1215 2618V2901"/>
</g>
<line x1="15" y1="2900" x2="1255" y2="2900" stroke="#00a000" stroke-width="1"/>
<path d="M16 2896v4M19 2896v4M22 2896v4M25 2896v4M28 2896v4M31 2896v4M34 2896v4M37 2896v4M40 2896v4M43 2896v4M46 2896v4M49 2896v4M52 2896v4M55 2896v4M58 2896v4M61 2896v4M64 2896v4M67 2896v4M70 2896v4M73 2896v4M76 2896v4M79 2896v4M82 2896v4M85 2896v4" stroke="#00a000" stroke-width="1.2"/>
<line x1="14" y1="2902" x2="1256" y2="2902" stroke="#000" stroke-width="2"/>
<path d="M15 2902v4M109.85 2902v4M205.95 2902v4M302.05 2902v4M398.15 2902v4M494.25 2902v4M590.35 2902v4M686.45 2902v4M782.55 2902v4M878.65 2902v4M974.75 2902v4M1070.85 2902v4M1166.95 2902v4M1256 2627h5M1256 2902h5" stroke="#000" stroke-width="1"/>
<text x="18" y="2636" font-size="14" fill="#000">入金加载</text>
<g font-size="14" fill="#000">
<text x="1263" y="2632">1.0%</text><text x="1263" y="2908">0.0%</text>
<text x="15" y="2918">2025.09.01</text><text x="111" y="2918">2025.09.02</text><text x="207" y="2918">2025.09.03</text><text x="303" y="2918">2025.09.05</text><text x="399" y="2918">2025.09.08</text><text x="495" y="2918">2025.09.10</text><text x="591" y="2918">2025.09.12</text><text x="687" y="2918">2025.09.16</text><text x="784" y="2918">2025.09.18</text><text x="880" y="2918">2025.09.22</text><text x="976" y="2918">2025.09.22</text><text x="1072" y="2918">2025.09.24</text><text x="1168" y="2918">2025.09.29</text>
</g>
</svg>
</div></body></html>
